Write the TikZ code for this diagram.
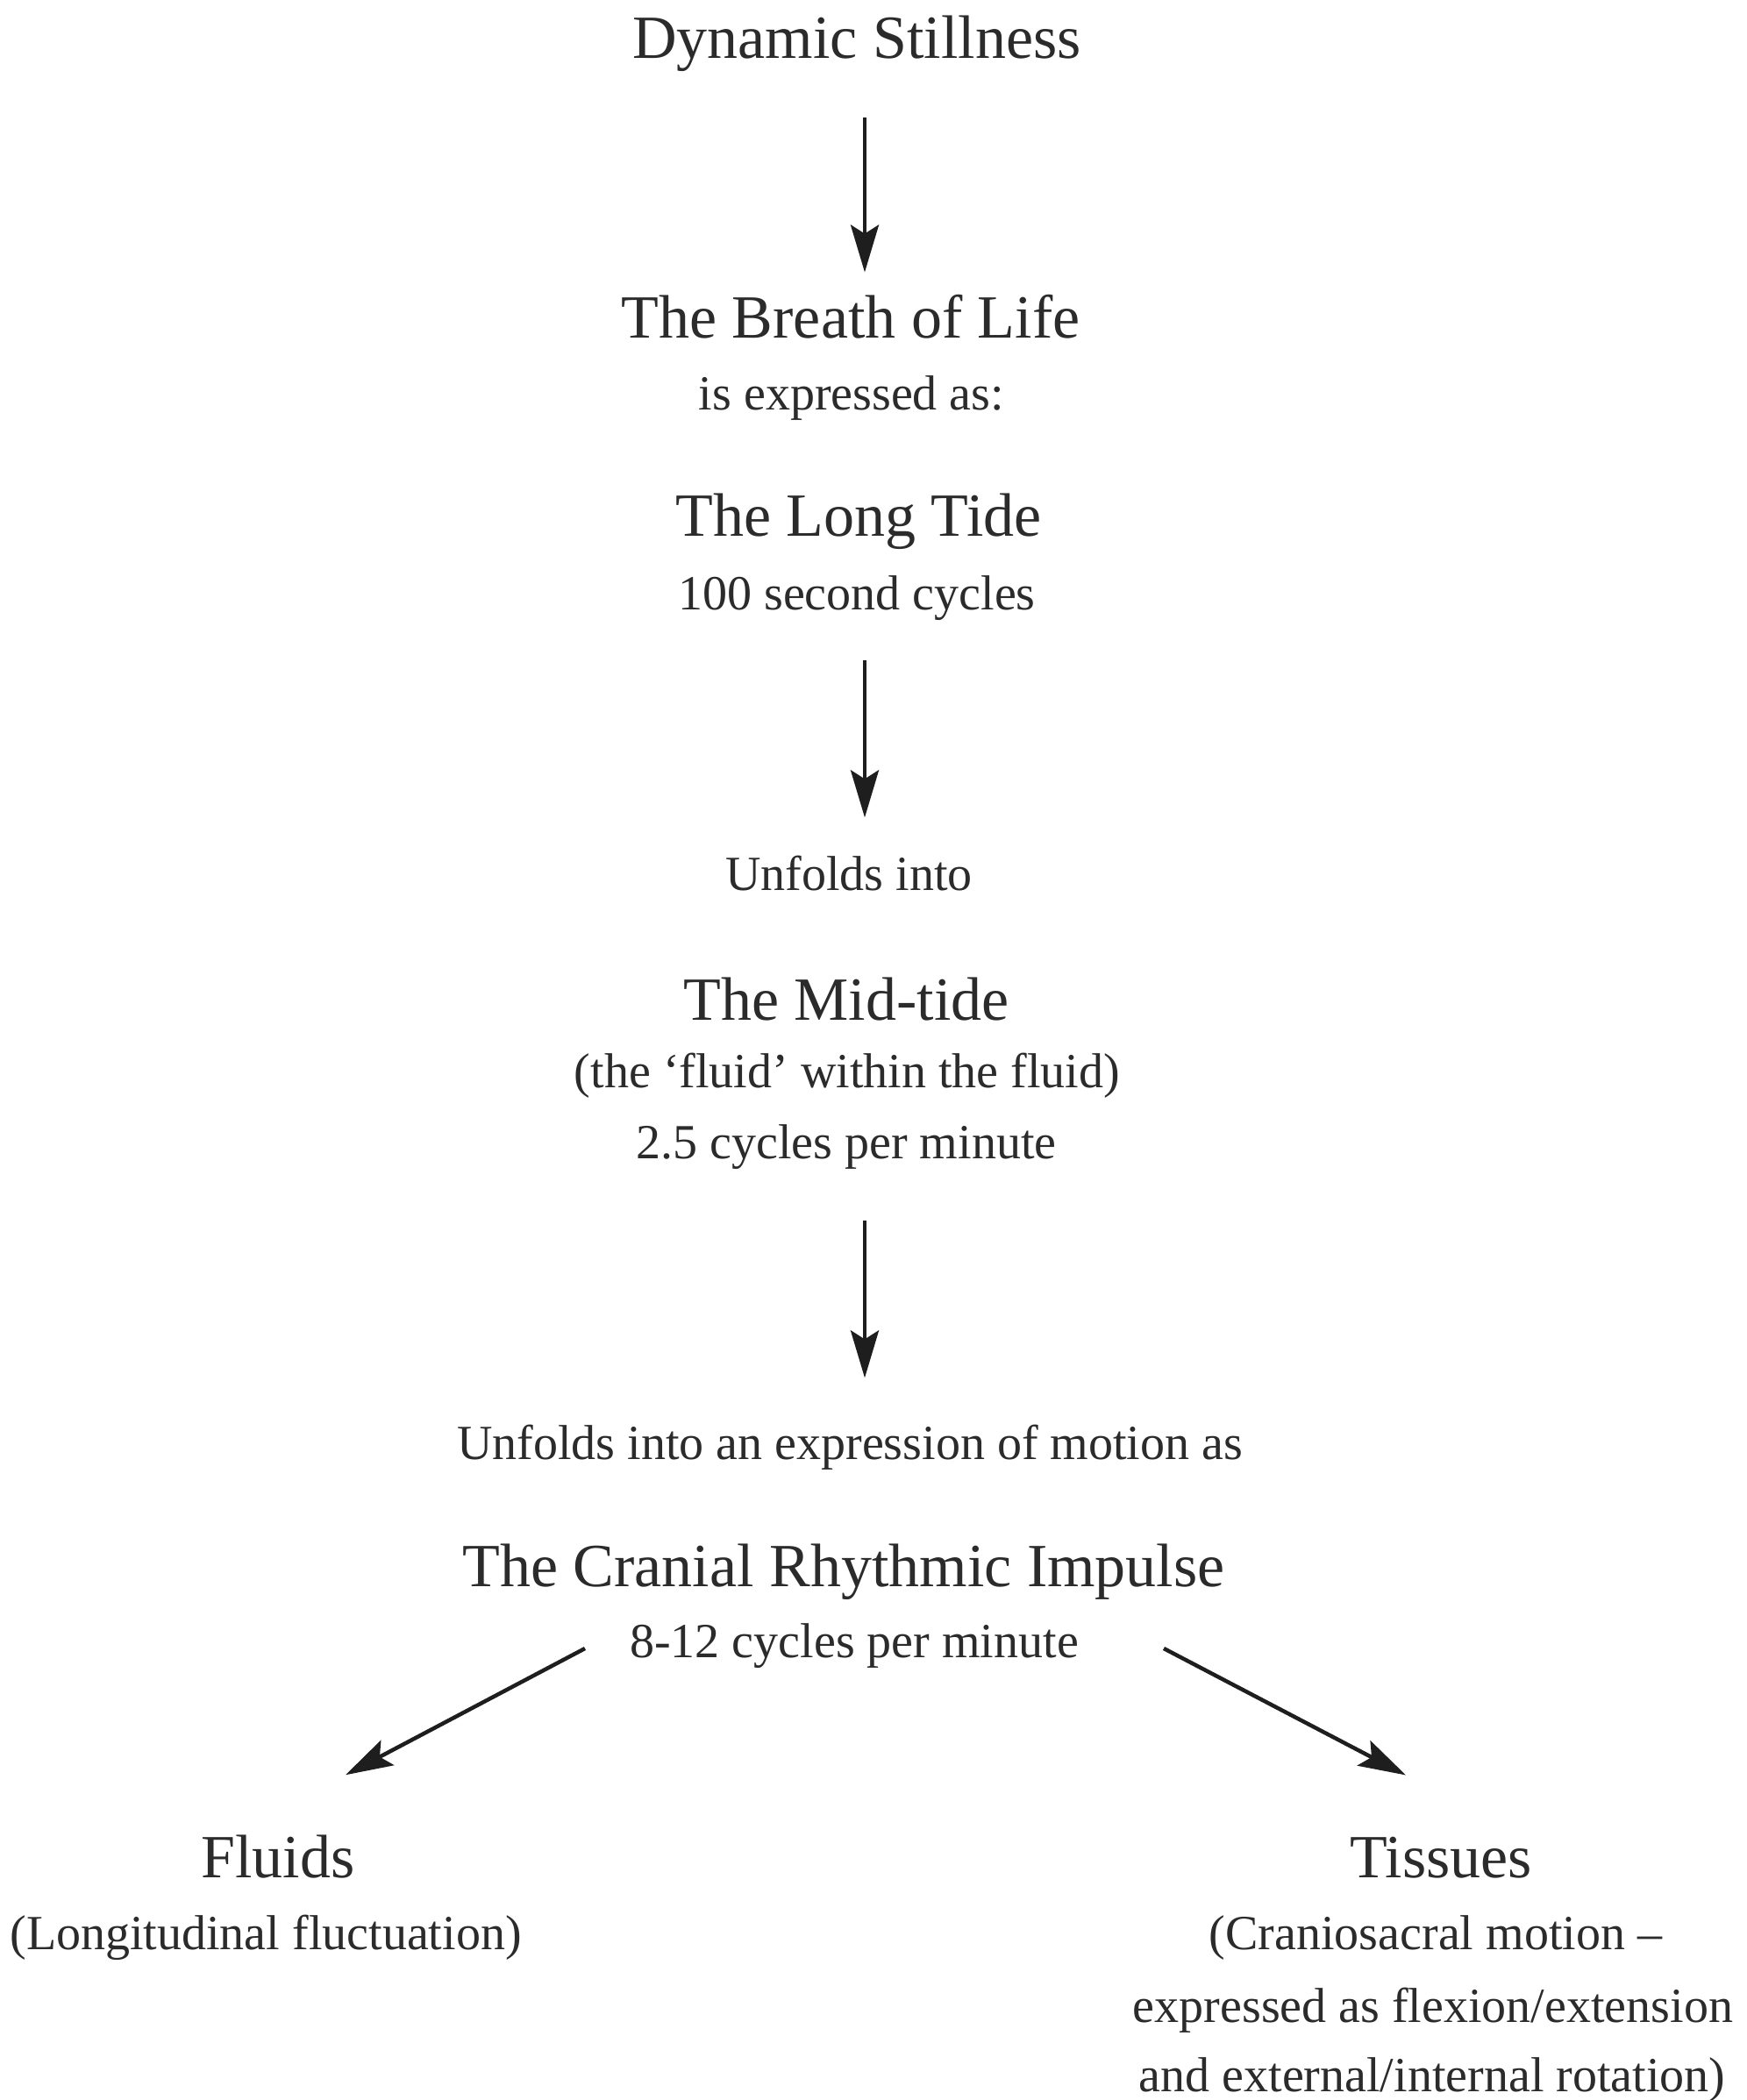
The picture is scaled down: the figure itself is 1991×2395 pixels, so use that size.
\documentclass[tikz,border=0pt]{standalone}
\usepackage{fontspec}
\setmainfont{Liberation Serif}
\usetikzlibrary{arrows.meta}
\definecolor{txt}{HTML}{2B2B2B}
\definecolor{arc}{HTML}{1E1E1E}
\begin{document}
\begin{tikzpicture}[x=1pt,y=-1pt,
  big/.style={anchor=base,inner sep=0pt,text=txt,font=\fontsize{70}{84}\selectfont},
  small/.style={anchor=base,inner sep=0pt,text=txt,font=\fontsize{56}{68}\selectfont},
  arr/.style={draw=arc,line width=4.5pt,-{Stealth[length=54pt,width=32pt,inset=10pt]}}]
\useasboundingbox[fill=white] (0,0) rectangle (1991,2395);
\node[big]   (ds)   at (977,67)   {Dynamic Stillness};
\node[big]   (bol)  at (970,385)  {The Breath of Life};
\node[small] (iea)  at (971,467)  {is expressed as:};
\node[big]   (lt)   at (979,611)  {The Long Tide};
\node[small] (lsc)  at (977,695)  {100 second cycles};
\node[small] (u1)   at (968,1015) {Unfolds into};
\node[big]   (mt)   at (965,1163) {The Mid-tide};
\node[small] (fw)   at (966,1240) {(the ‘fluid’ within the fluid)};
\node[small] (mc)   at (965,1321) {2.5 cycles per minute};
\node[small] (u2)   at (969,1664) {Unfolds into an expression of motion as};
\node[big]   (cri)  at (962,1809) {The Cranial Rhythmic Impulse};
\node[small] (cpm)  at (974,1890) {8-12 cycles per minute};
\node[big]   (fl)   at (317,2141) {Fluids};
\node[small] (fls)  at (303,2223) {(Longitudinal fluctuation)};
\node[big]   (ti)   at (1643,2141) {Tissues};
\node[small] (ts1)  at (1637,2223) {(Craniosacral motion –};
\node[small] (ts2)  at (1634,2306) {expressed as flexion/extension};
\node[small] (ts3)  at (1633,2385) {and external/internal rotation)};
\draw[arr,shorten <=52pt,shorten >=25pt] (ds.south -| 986,0) -- (bol.north -| 986,0);
\draw[arr,shorten <=46pt,shorten >=43pt] (lsc.south -| 986,0) -- (u1.north -| 986,0);
\draw[arr,shorten <=59pt,shorten >=53pt] (mc.south -| 986,0) -- (u2.north -| 986,0);
\draw[arr] ([shift={(-51,-10)}]cpm.base west) -- ([shift={(77,-68)}]fl.north);
\draw[arr] ([shift={(97,-10)}]cpm.base east) -- ([shift={(-40,-70)}]ti.north);
\end{tikzpicture}
\end{document}
